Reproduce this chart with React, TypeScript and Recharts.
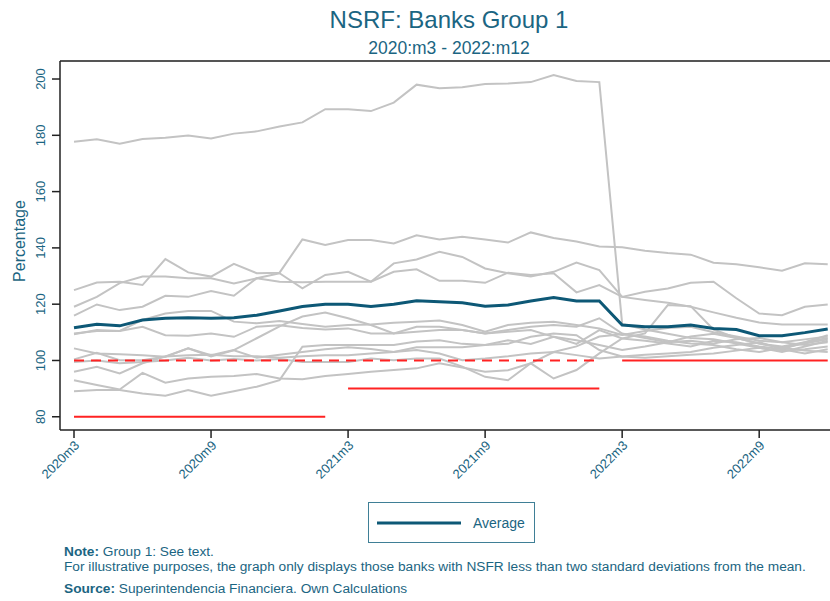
import React from "react";
import { LineChart, Line, XAxis, YAxis, ReferenceLine } from "recharts";

const months = [
  "2020m3","2020m4","2020m5","2020m6","2020m7","2020m8","2020m9","2020m10","2020m11","2020m12",
  "2021m1","2021m2","2021m3","2021m4","2021m5","2021m6","2021m7","2021m8","2021m9","2021m10",
  "2021m11","2021m12","2022m1","2022m2","2022m3","2022m4","2022m5","2022m6","2022m7","2022m8",
  "2022m9","2022m10","2022m11","2022m12",
];
const tickIdx = [0, 6, 12, 18, 24, 30];
const yTicks = [80, 100, 120, 140, 160, 180, 200];

const bankA = [177.7,178.6,177.0,178.7,179.1,179.9,178.9,180.6,181.4,183.1,184.6,189.3,189.3,188.6,191.6,198.0,196.7,197.1,198.2,198.4,198.9,201.4,199.3,198.9,113.0,111.0,109.5,108.0,107.5,106.0,104.5,103.0,105.0,107.0];
const bankB = [125.0,127.7,128.0,126.8,136.0,131.3,129.8,134.3,131.0,131.2,143.0,141.0,142.8,142.8,141.6,144.5,143.0,144.0,143.0,141.9,145.5,143.5,142.3,140.5,140.2,139.0,138.2,137.6,134.7,134.2,133.1,131.9,134.5,134.2];
const bankC = [119.1,122.6,127.5,129.8,129.8,129.2,129.2,127.4,129.2,128.0,127.8,128.0,128.0,128.0,131.5,132.4,128.3,128.3,127.6,131.2,130.4,131.0,124.2,126.8,122.6,121.5,120.5,119.1,117.1,115.2,113.5,112.8,112.8,112.8];
const bankD = [115.9,119.9,117.9,119.1,123.0,122.6,124.7,123.0,129.2,131.0,125.6,130.4,131.5,128.0,134.5,135.9,138.6,136.8,132.7,131.0,129.8,131.5,134.8,132.1,122.6,124.4,125.6,127.6,128.0,122.1,116.7,116.1,119.1,119.9];
const bankE = [109.6,110.5,110.5,114.4,116.7,117.6,117.6,113.8,113.2,114.0,113.0,112.0,112.6,112.8,113.4,113.8,114.2,112.6,110.2,112.6,113.4,113.8,112.6,111.4,109.1,110.5,111.5,112.0,110.0,108.5,107.0,106.5,107.5,108.5];
const bankF = [109.3,110.8,110.5,112.0,109.0,108.8,109.6,108.4,112.0,112.5,111.5,111.0,111.4,109.6,109.6,110.2,110.8,110.8,109.6,110.2,110.8,108.4,107.2,105.5,103.7,105.0,106.5,108.5,109.5,108.0,106.0,105.0,106.5,109.0];
const bankG = [104.3,102.5,102.2,101.9,101.3,104.3,101.9,103.7,107.9,112.1,115.6,117.0,115.0,112.6,109.6,112.0,112.0,110.8,109.6,110.8,112.0,112.6,112.0,115.0,109.6,108.0,106.5,107.0,106.0,107.5,108.0,106.5,105.5,106.5];
const bankH = [100.4,102.7,100.1,100.1,101.4,104.3,101.4,103.6,101.0,102.0,103.0,104.0,104.7,104.1,103.0,104.7,104.7,104.7,105.5,105.9,108.4,109.6,109.0,103.7,101.4,102.0,102.5,103.0,104.5,105.5,106.5,104.0,102.5,104.0];
const bankI = [96.0,97.8,95.4,99.0,101.4,101.9,102.0,101.5,101.5,101.0,101.5,101.9,101.9,102.5,103.0,103.7,102.5,100.1,100.7,101.5,102.5,103.0,101.9,100.7,101.4,101.0,101.5,102.0,102.5,103.5,104.5,103.5,104.0,105.0];
const bankJ = [93.0,91.3,89.7,95.6,92.1,93.6,94.2,94.5,95.2,93.6,93.3,94.5,95.2,96.0,96.6,97.2,99.0,97.5,96.0,96.5,99.0,103.0,105.0,108.5,109.3,108.5,107.0,106.0,105.5,104.0,103.0,104.5,106.0,107.5];
const bankK = [89.1,89.5,89.5,88.3,87.5,89.5,87.5,89.1,90.7,93.0,104.9,105.5,105.5,105.5,105.5,106.7,107.2,105.9,105.5,107.2,105.9,108.4,105.9,110.8,107.8,107.0,106.0,105.0,107.0,106.5,105.0,104.0,106.5,108.0];
const bankM = [99.5,100.0,99.0,99.5,100.0,101.0,100.0,100.5,100.0,100.5,99.5,99.5,99.5,100.7,100.1,100.7,100.7,97.8,94.2,93.0,99.0,93.6,96.6,102.5,107.8,109.6,119.7,119.3,111.0,108.0,106.0,104.5,103.5,103.0];
const average = [111.6,112.9,112.3,114.4,115.0,115.2,115.0,115.2,116.1,117.6,119.2,120.0,120.0,119.2,120.0,121.2,120.9,120.5,119.3,119.7,121.1,122.4,121.1,121.1,112.6,112.0,112.0,112.6,111.4,111.0,108.8,108.8,109.9,111.2];

const banks: Record<string, number[]> = {
  A: bankA, B: bankB, C: bankC, D: bankD, E: bankE, F: bankF,
  G: bankG, H: bankH, I: bankI, J: bankJ, K: bankK, M: bankM,
};

// regulatory thresholds: [from index, to index, level, dashed]
const thresholds: [number, number, number, boolean][] = [
  [0, 11, 80, false],
  [0, 23, 100, true],
  [12, 23, 90, false],
  [24, 33, 100, false],
];

const data = months.map((m, i) => {
  const row: Record<string, number | string> = { t: i, month: m, avg: average[i] };
  Object.keys(banks).forEach((k) => (row[k] = banks[k][i]));
  return row;
});

const TEXT = "#1b6582";
const AVG = "#0d5876";
const GRAY = "#c3c3c3";
const RED = "#ff2222";
const FONT = "'Liberation Sans', Arial, Helvetica, sans-serif";

const YTick = (props: any) => {
  const { x, y, payload } = props;
  return (
    <text x={x} y={y} transform={`rotate(-90 ${x} ${y})`} textAnchor="middle" fill={TEXT} fontSize={13} fontFamily={FONT}>
      {payload.value}
    </text>
  );
};

const XTick = (props: any) => {
  const { x, y, payload } = props;
  const ax = x + 3;
  const ay = y + 2;
  return (
    <text x={ax} y={ay} dy="0.35em" transform={`rotate(-45 ${ax} ${ay})`} textAnchor="end" fill={TEXT} fontSize={13} fontFamily={FONT}>
      {months[payload.value]}
    </text>
  );
};

export default function App() {
  return (
    <div style={{ position: "absolute", left: 0, top: 0, width: 830, height: 601, background: "#fff", overflow: "hidden", fontFamily: FONT }}>
      <LineChart width={830} height={601} data={data} margin={{ top: 61, right: 0, left: 10, bottom: 0 }}>
        <XAxis
          type="number"
          dataKey="t"
          domain={[-0.613, 33.1]}
          allowDataOverflow
          ticks={tickIdx}
          interval={0}
          tick={<XTick />}
          tickSize={8}
          tickMargin={3}
          height={171}
          axisLine={{ stroke: "#222", strokeWidth: 1.5 }}
          tickLine={{ stroke: "#222", strokeWidth: 1.5 }}
        />
        <YAxis
          type="number"
          domain={[75.3, 206.4]}
          allowDataOverflow
          ticks={yTicks}
          interval={0}
          tick={<YTick />}
          tickSize={8}
          tickMargin={7}
          width={50}
          axisLine={{ stroke: "#222", strokeWidth: 1.5 }}
          tickLine={{ stroke: "#222", strokeWidth: 1.5 }}
        />
        <ReferenceLine y={206.4} stroke="#555" strokeWidth={2} ifOverflow="visible" />
        {Object.keys(banks).map((k) => (
          <Line key={k} type="linear" dataKey={k} stroke={GRAY} strokeWidth={2} dot={false} activeDot={false} isAnimationActive={false} />
        ))}
        {thresholds.map(([a, b, v, dashed], i) => (
          <ReferenceLine
            key={i}
            segment={[{ x: a, y: v }, { x: b, y: v }]}
            stroke={RED}
            strokeWidth={2}
            strokeDasharray={dashed ? "10 7" : undefined}
            ifOverflow="visible"
          />
        ))}
        <Line type="linear" dataKey="avg" stroke={AVG} strokeWidth={3} dot={false} activeDot={false} isAnimationActive={false} />
      </LineChart>
      <svg width={830} height={601} style={{ position: "absolute", left: 0, top: 0, pointerEvents: "none" }}>
        <text x={449} y={28} textAnchor="middle" fill={TEXT} fontSize={24} fontFamily={FONT}>NSRF: Banks Group 1</text>
        <text x={449} y={54} textAnchor="middle" fill={TEXT} fontSize={17.5} fontFamily={FONT}>2020:m3 - 2022:m12</text>
        <text x={25} y={241} transform="rotate(-90 25 241)" textAnchor="middle" fill={TEXT} fontSize={16} fontFamily={FONT}>Percentage</text>
        <rect x={368.5} y={502.5} width={166} height={40} fill="none" stroke="#3f7f96" strokeWidth={1} />
        <line x1={377} x2={461} y1={523} y2={523} stroke={AVG} strokeWidth={3} />
        <text x={473} y={528} fill={TEXT} fontSize={14} fontFamily={FONT}>Average</text>
        <text x={64} y={556} fill={TEXT} fontSize={13.7} fontFamily={FONT}>
          <tspan fontWeight="bold">Note:</tspan> Group 1: See text.
        </text>
        <text x={64} y={571} fill={TEXT} fontSize={13.7} fontFamily={FONT}>
          For illustrative purposes, the graph only displays those banks with NSFR less than two standard deviations from the mean.
        </text>
        <text x={64} y={593} fill={TEXT} fontSize={13.7} fontFamily={FONT}>
          <tspan fontWeight="bold">Source:</tspan> Superintendencia Financiera. Own Calculations
        </text>
      </svg>
    </div>
  );
}
